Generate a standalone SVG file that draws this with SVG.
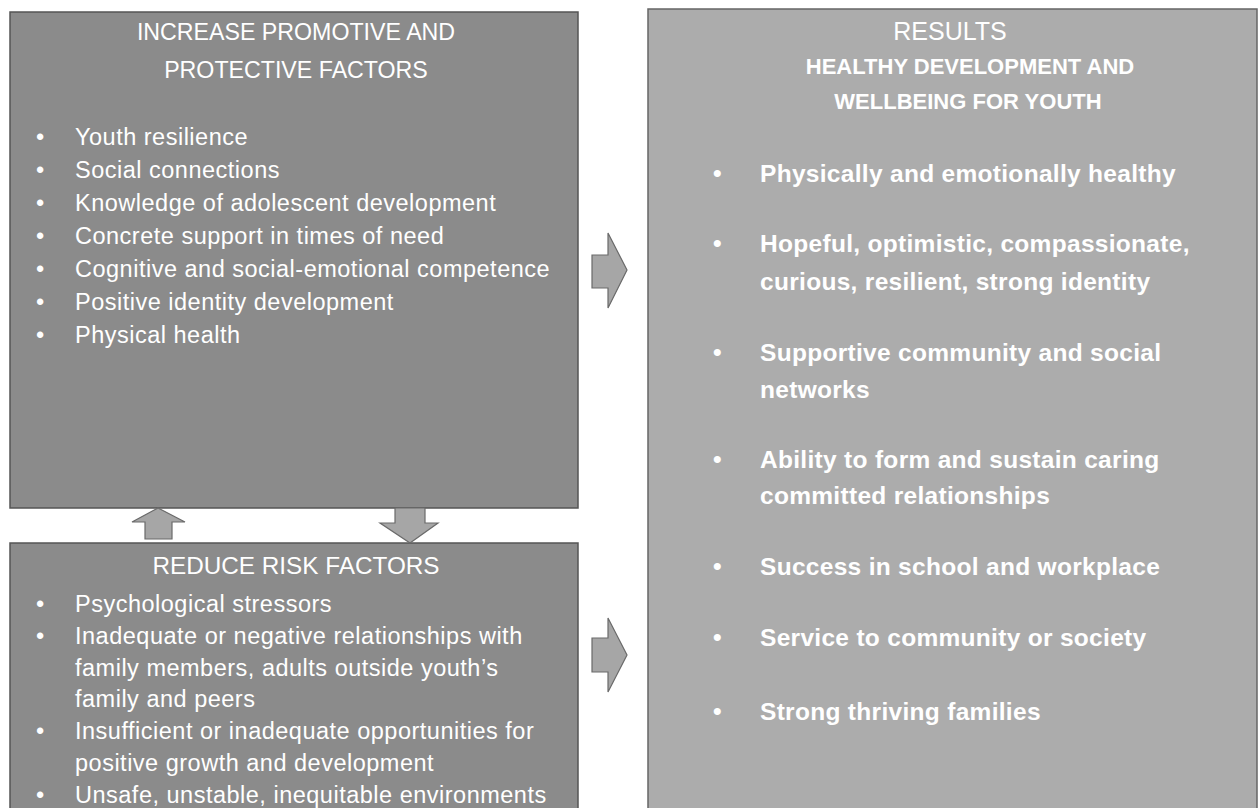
<svg xmlns="http://www.w3.org/2000/svg" width="1260" height="808" viewBox="0 0 1260 808">
<style>
.box{fill:#8b8b8b;stroke:#555555;stroke-width:1.5}
.rbox{fill:#acacac;stroke:#666666;stroke-width:1.5}
.arr{fill:#a6a6a6;stroke:#6a6a6a;stroke-width:1.2}
text{font-family:"Liberation Sans",Arial,sans-serif;fill:#ffffff}
.h{font-size:23.2px;text-anchor:middle}
.hb{font-size:22px;font-weight:bold;text-anchor:middle}
.li{font-size:23.5px;letter-spacing:0.5px}
.rl{font-size:24.5px;font-weight:bold;fill:#f6f6f6;letter-spacing:0.3px}
.bu{letter-spacing:0}
</style>
<rect width="1260" height="808" fill="#ffffff"/>
<g id="promotive">
<rect class="box" x="10" y="12" width="568" height="496"/>
<text class="h" x="296" y="40">INCREASE PROMOTIVE AND</text>
<text class="h" x="296" y="78">PROTECTIVE FACTORS</text>
<g class="li">
<text class="bu" x="36" y="145">•</text><text x="75" y="145">Youth resilience</text>
<text class="bu" x="36" y="178">•</text><text x="75" y="178">Social connections</text>
<text class="bu" x="36" y="211">•</text><text x="75" y="211">Knowledge of adolescent development</text>
<text class="bu" x="36" y="244">•</text><text x="75" y="244">Concrete support in times of need</text>
<text class="bu" x="36" y="277">•</text><text x="75" y="277">Cognitive and social-emotional competence</text>
<text class="bu" x="36" y="310">•</text><text x="75" y="310">Positive identity development</text>
<text class="bu" x="36" y="343">•</text><text x="75" y="343">Physical health</text>
</g>
</g>
<g id="risk">
<rect class="box" x="10" y="543" width="568" height="270"/>
<text class="h" x="296" y="574" style="font-size:24.3px">REDUCE RISK FACTORS</text>
<g class="li">
<text class="bu" x="36" y="612">•</text><text x="75" y="612">Psychological stressors</text>
<text class="bu" x="36" y="644">•</text><text x="75" y="644">Inadequate or negative relationships with</text>
<text x="75" y="676">family members, adults outside youth’s</text>
<text x="75" y="707">family and peers</text>
<text class="bu" x="36" y="739">•</text><text x="75" y="739">Insufficient or inadequate opportunities for</text>
<text x="75" y="771">positive growth and development</text>
<text class="bu" x="36" y="803">•</text><text x="75" y="803">Unsafe, unstable, inequitable environments</text>
</g>
</g>
<g id="results">
<rect class="rbox" x="648" y="9" width="609" height="804"/>
<text class="h" x="950" y="40" style="font-size:25px">RESULTS</text>
<text class="hb" x="970" y="74">HEALTHY DEVELOPMENT AND</text>
<text class="hb" x="968" y="109">WELLBEING FOR YOUTH</text>
<g class="rl">
<text class="bu" x="713" y="182">•</text><text x="760" y="182">Physically and emotionally healthy</text>
<text class="bu" x="713" y="252">•</text><text x="760" y="252">Hopeful, optimistic, compassionate,</text>
<text x="760" y="290">curious, resilient, strong identity</text>
<text class="bu" x="713" y="361">•</text><text x="760" y="361">Supportive community and social</text>
<text x="760" y="398">networks</text>
<text class="bu" x="713" y="468">•</text><text x="760" y="468">Ability to form and sustain caring</text>
<text x="760" y="504">committed relationships</text>
<text class="bu" x="713" y="575">•</text><text x="760" y="575">Success in school and workplace</text>
<text class="bu" x="713" y="646">•</text><text x="760" y="646">Service to community or society</text>
<text class="bu" x="713" y="720">•</text><text x="760" y="720">Strong thriving families</text>
</g>
</g>
<g id="connectors">
<polygon class="arr" points="592,255 608,255 608,233 627,270 608,308 608,288 592,288"/>
<polygon class="arr" points="592,638 608,638 608,618 627,655 608,692 608,672 592,672"/>
<polygon class="arr" points="145,539 145,522 132,522 158,508 185,522 172,522 172,539"/>
<polygon class="arr" points="395,508 425,508 425,523 438,523 410,543 380,523 395,523"/>
</g>
</svg>
